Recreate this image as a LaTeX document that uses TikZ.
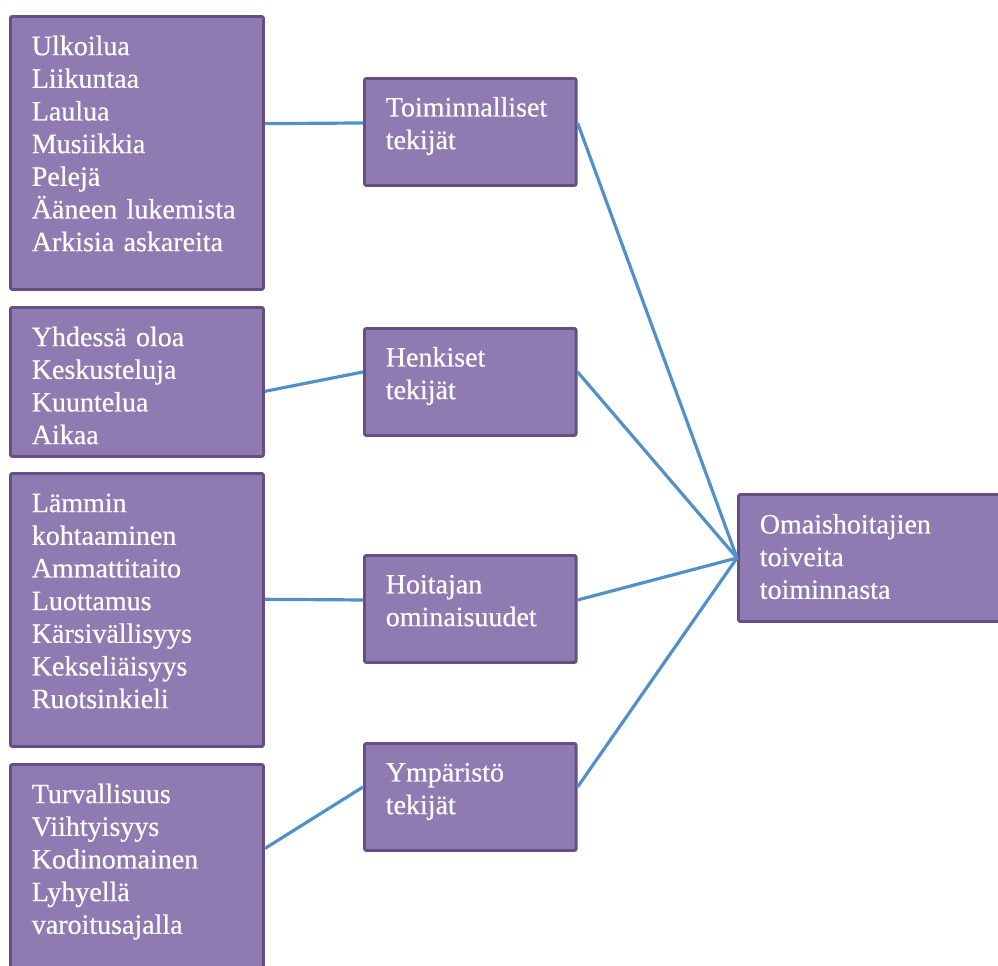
\documentclass[tikz,border=0pt]{standalone}
\usepackage{fontspec}
\setmainfont{Liberation Serif}
\newfontfamily\boxfont[FakeBold=0.5,WordSpace=0.8]{Liberation Serif}
\usepackage{xcolor}
\usepackage{tikz}
\usetikzlibrary{positioning}

\definecolor{boxfill}{RGB}{143,122,177}
\definecolor{boxline}{RGB}{100,80,132}
\definecolor{linkblue}{RGB}{82,145,200}

\begin{document}
\begin{tikzpicture}[
        x=0.75pt, y=-0.75pt,
        box/.style={rectangle, draw=boxline, fill=boxfill, line width=2.2pt, rounded corners=1.5pt,
            text=white, font=\boxfont\fontsize{21}{24.5}\selectfont, align=left, anchor=north west,
            inner xsep=16pt, inner ysep=0pt},
        leftbox/.style={box, text width=157.75pt, minimum width=189.75pt, text height=29pt},
        midbox/.style={box, text width=126.75pt, minimum width=158pt, text height=28.5pt, text depth=51.75pt},
        link/.style={draw=linkblue, line width=2.4pt}
    ]
        \clip (0,0) rectangle (998,965);

        % Left boxes
        \node[leftbox, text depth=175.75pt] (ulko) at (9,15) {Ulkoilua\\Liikuntaa\\Laulua\\Musiikkia\\Pelejä\\Ääneen lukemista\\Arkisia askareita};
        \node[leftbox, text depth=82.75pt] (yhdes) at (9,306) {Yhdessä oloa\\Keskusteluja\\Kuuntelua\\Aikaa};
        \node[leftbox, text depth=175.75pt] (lamm) at (9,472) {Lämmin\\kohtaaminen\\Ammattitaito\\Luottamus\\Kärsivällisyys\\Kekseliäisyys\\Ruotsinkieli};
        \node[leftbox, text depth=151pt] (turva) at (9,763) {Turvallisuus\\Viihtyisyys\\Kodinomainen\\Lyhyellä\\varoitusajalla};

        % Middle boxes
        \node[midbox] (toim) at (363,77) {Toiminnalliset\\tekijät};
        \node[midbox] (henk) at (363,327) {Henkiset\\tekijät};
        \node[midbox] (hoit) at (363,554) {Hoitajan\\ominaisuudet};
        \node[midbox] (ymp) at (363,742) {Ympäristö\\tekijät};

        % Right box
        \node[box, text width=178pt, minimum width=210pt, text height=29.25pt, text depth=66pt] (toive) at (737,493) {Omaishoitajien\\toiveita\\toiminnasta};

        % Connections
        \draw[link] ([yshift=22pt]ulko.east) -- ([yshift=6.75pt]toim.west);
        \draw[link] ([yshift=-7pt]yhdes.east) -- ([yshift=7.5pt]henk.west);
        \draw[link] ([yshift=8pt]lamm.east) -- ([yshift=6.75pt]hoit.west);
        \draw[link] ([yshift=27pt]turva.east) -- ([yshift=7.5pt]ymp.west);

        \draw[link] ([yshift=6.75pt]toim.east) -- (toive.west);
        \draw[link] ([yshift=7.5pt]henk.east) -- (toive.west);
        \draw[link] ([yshift=6.75pt]hoit.east) -- (toive.west);
        \draw[link] ([yshift=7.5pt]ymp.east) -- (toive.west);

    \end{tikzpicture}
\end{document}
